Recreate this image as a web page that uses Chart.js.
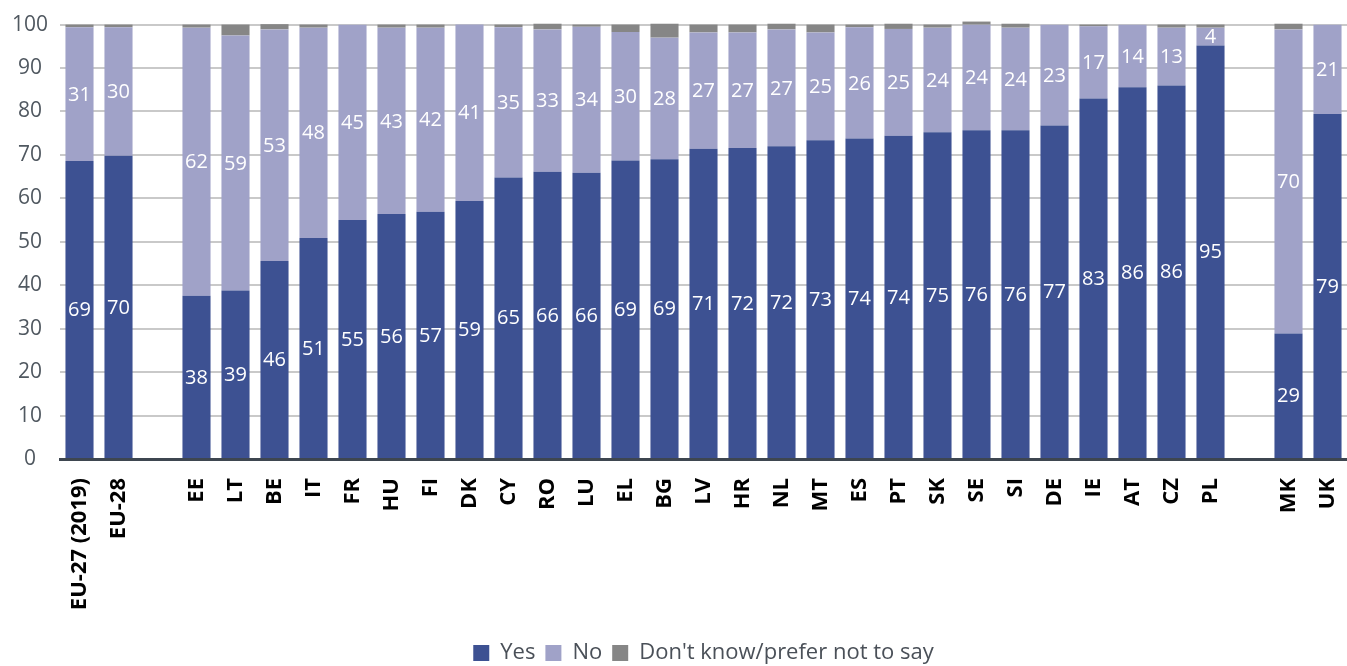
<!DOCTYPE html>
<html>
<head>
<meta charset="utf-8">
<script src="https://cdn.jsdelivr.net/npm/chart.js@4/dist/chart.umd.min.js"></script>
<style>
  html, body { margin: 0; padding: 0; background: #fff; }
  #wrap { width: 1347px; height: 666px; position: relative; }
</style>
</head>
<body>
<div id="wrap"><canvas id="chart"></canvas></div>
<script>
// countries, with empty slots as spacers between the groups
const categories = ['EU-27 (2019)', 'EU-28', '', 'EE', 'LT', 'BE', 'IT', 'FR', 'HU', 'FI', 'DK', 'CY', 'RO', 'LU', 'EL', 'BG',
  'LV', 'HR', 'NL', 'MT', 'ES', 'PT', 'SK', 'SE', 'SI', 'DE', 'IE', 'AT', 'CZ', 'PL', '', 'MK', 'UK']

const yesValues = [68.6, 69.8, null, 37.6, 38.8, 45.6, 50.9, 55.0, 56.4, 56.9, 59.4, 64.8, 66.1, 65.9, 68.7, 69.0,
  71.4, 71.6, 72.0, 73.4, 73.8, 74.4, 75.2, 75.7, 75.7, 76.8, 83.0, 85.6, 86.0, 95.2, null, 28.9, 79.4]
const noValues = [30.8, 29.6, null, 61.7, 58.7, 53.3, 48.4, 45.0, 42.9, 42.4, 40.8, 34.6, 32.8, 33.6, 29.6, 28.0,
  26.8, 26.6, 26.9, 24.8, 25.6, 24.6, 24.1, 24.3, 23.6, 23.2, 16.6, 14.4, 13.3, 4.1, null, 70.0, 20.6]
const dontKnowValues = [0.6, 0.6, null, 0.7, 2.5, 1.2, 0.7, 0, 0.7, 0.7, 0, 0.6, 1.3, 0.5, 1.7, 3.2,
  1.8, 1.8, 1.3, 1.8, 0.6, 1.2, 0.7, 0.7, 0.9, 0, 0.4, 0, 0.7, 0.7, null, 1.3, 0]

const yTicks = [0, 10, 20, 30, 40, 50, 60, 70, 80, 90, 100]

const FONT = '"Open Sans", "Noto Sans", sans-serif'

// white value labels in the middle of the Yes / No segments
const segmentLabels = {
  id: 'segmentLabels',
  afterDatasetsDraw(chart) {
    const ctx = chart.ctx
    ctx.save()
    ctx.fillStyle = '#ffffff'
    ctx.font = '20px ' + FONT
    ctx.textAlign = 'center'
    ctx.textBaseline = 'middle'
    ;[0, 1].forEach(di => {
      const meta = chart.getDatasetMeta(di)
      meta.data.forEach((bar, i) => {
        const v = chart.data.datasets[di].data[i]
        if (v == null) return
        const { x, y, base } = bar.getProps(['x', 'y', 'base'], true)
        ctx.fillText(String(Math.round(v)), x, (y + base) / 2 + 1)
      })
    })
    ctx.restore()
  }
}

const config = {
  type: 'bar',
  data: {
    labels: categories,
    datasets: [
      { label: 'Yes', data: yesValues, backgroundColor: '#3d5192' },
      { label: 'No', data: noValues, backgroundColor: '#a0a2c8' },
      { label: "Don't know/prefer not to say", data: dontKnowValues, backgroundColor: '#868686', clip: false }
    ]
  },
  options: {
    responsive: true,
    maintainAspectRatio: false,
    animation: false,
    datasets: { bar: { barPercentage: 0.72, categoryPercentage: 1 } },
    layout: { padding: { top: 12, right: 0, bottom: -8, left: 0 } },
    scales: {
      x: {
        stacked: true,
        grid: { display: false },
        border: { color: '#3e4650', width: 3 },
        ticks: {
          autoSkip: false,
          minRotation: 90,
          maxRotation: 90,
          padding: 11,
          color: '#000000',
          font: { family: FONT, size: 22, weight: 'bold' }
        },
        afterFit(scale) {
          scale.height = 173
          scale.paddingLeft = 0
          scale.paddingRight = 0
        }
      },
      y: {
        stacked: true,
        min: 0,
        max: 100,
        afterBuildTicks(scale) {
          scale.ticks = yTicks.map(v => ({ value: v }))
        },
        grid: { color: '#c9c9c9', lineWidth: 2, drawTicks: false },
        border: { display: false },
        ticks: {
          crossAlign: 'center',
          padding: 12,
          color: '#505860',
          font: { family: FONT, size: 21 }
        },
        afterFit(scale) {
          scale.width = 60
        }
      }
    },
    plugins: {
      legend: {
        position: 'bottom',
        fullSize: false,
        labels: {
          boxWidth: 16,
          boxHeight: 16,
          padding: 10,
          color: '#4a5058',
          font: { family: FONT, size: 22 }
        }
      },
      tooltip: { enabled: false }
    }
  },
  plugins: [segmentLabels]
}

const chart = new Chart(document.getElementById('chart'), config)
</script>
</body>
</html>
